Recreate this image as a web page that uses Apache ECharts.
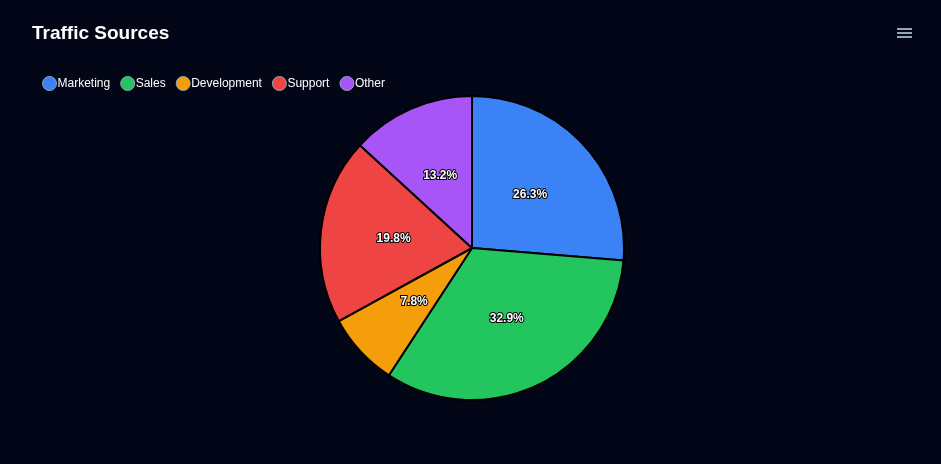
<!DOCTYPE html>
<html><head><meta charset="utf-8">
<script src="https://cdn.jsdelivr.net/npm/echarts@6/dist/echarts.min.js"></script>
<style>html,body{margin:0;padding:0;background:#020617}#c{width:941px;height:464px}</style>
</head><body><div id="c"></div>
<script>
var categories=['Marketing','Sales','Development','Support','Other'];
var values=[26.3,32.9,7.8,19.8,13.2];
var colors=['#3b82f6','#22c55e','#f59e0b','#ef4444','#a855f7'];
var chart=echarts.init(document.getElementById('c'));
chart.setOption({
  backgroundColor:'#020617',
  color:colors,
  title:{text:'Traffic Sources',left:32,top:24,textStyle:{color:'#fff',fontSize:19,fontWeight:'bold',fontFamily:'Liberation Sans, Arial'},padding:0},
  legend:{left:37,top:71,icon:'circle',itemWidth:14,itemHeight:14,itemGap:10,
    itemStyle:{borderColor:'#94a3b8',borderWidth:1},
    textStyle:{color:'#fff',fontSize:12,fontFamily:'Liberation Sans, Arial',padding:[0,0,0,-4]},
    data:categories},
  graphic:[0,4,8].map(function(d){return {type:'rect',left:897,top:28+d,shape:{width:15,height:2},style:{fill:'#94a3b8'}};}),
  series:[{type:'pie',center:[472,248],radius:152,startAngle:90,clockwise:true,
    itemStyle:{borderColor:'#000',borderWidth:2},
    label:{position:'inside',formatter:'{c}%',color:'#fff',fontSize:12,fontWeight:'bold',fontFamily:'Liberation Sans, Arial',textBorderColor:'#000',textBorderWidth:2},
    labelLine:{show:false},
    data:categories.map(function(n,i){return {name:n,value:values[i]};})}]
});
</script></body></html>
